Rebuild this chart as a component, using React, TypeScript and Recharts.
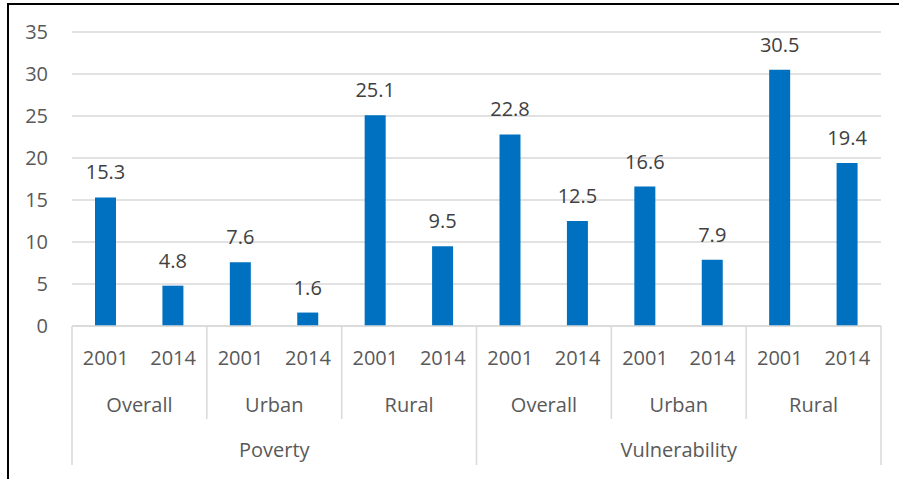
import React from 'react';
import { BarChart, Bar, XAxis, YAxis, CartesianGrid, LabelList } from 'recharts';

const groups = ['Poverty', 'Vulnerability'];
const areas = ['Overall', 'Urban', 'Rural'];
const years = ['2001', '2014'];
const values = [15.3, 4.8, 7.6, 1.6, 25.1, 9.5, 22.8, 12.5, 16.6, 7.9, 30.5, 19.4];
const yTicks = [0, 5, 10, 15, 20, 25, 30, 35];

const data = values.map((v, i) => ({
  year: years[i % 2],
  area: areas[Math.floor(i / 2) % 3],
  group: groups[Math.floor(i / 6)],
  value: v,
}));

const W = 899;
const H = 479;
const MARGIN = { top: 32, right: 18, left: 0, bottom: 0 };
const Y_W = 72;
const X_H = 153;
const BAND = (W - MARGIN.left - MARGIN.right - Y_W) / data.length;
const FONT = '"Open Sans", sans-serif';
const GRID = '#d9d9d9';
const TXT = '#595959';

function CategoryTick(props: any) {
  const { x, y, payload } = props;
  const i = payload.index as number;
  const d = data[i];
  const left = x - BAND / 2;
  const parts: React.ReactNode[] = [];
  if (i % 2 === 0) {
    const full = i % 6 === 0;
    parts.push(
      <line key="sep" x1={left} x2={left} y1={y} y2={y + (full ? 139 : 93)} stroke={GRID} strokeWidth={1.5} />
    );
    parts.push(
      <text key="area" x={x + BAND / 2} y={y + 86} textAnchor="middle" fill={TXT} fontSize={20} fontFamily={FONT}>
        {d.area}
      </text>
    );
  }
  if (i % 6 === 0) {
    parts.push(
      <text key="grp" x={x + BAND * 2.5} y={y + 131} textAnchor="middle" fill={TXT} fontSize={20} fontFamily={FONT}>
        {d.group}
      </text>
    );
  }
  if (i === data.length - 1) {
    const right = x + BAND / 2;
    parts.push(<line key="end" x1={right} x2={right} y1={y} y2={y + 139} stroke={GRID} strokeWidth={1.5} />);
  }
  return (
    <g>
      <text x={x} y={y + 39} textAnchor="middle" fill={TXT} fontSize={20} fontFamily={FONT}>
        {d.year}
      </text>
      {parts}
    </g>
  );
}

export default function App() {
  return (
    <div style={{ position: 'absolute', left: 0, top: 0, width: W, height: H, background: '#fff', overflow: 'hidden' }}>
      <div
        style={{
          position: 'absolute', left: 7, top: 3, width: W, height: H,
          borderTop: '2px solid #000', borderLeft: '2px solid #000',
        }}
      />
      <div style={{ position: 'absolute', left: 0, top: 0 }}>
        <BarChart width={W} height={H} data={data} margin={MARGIN}>
          <CartesianGrid horizontal vertical={false} stroke={GRID} strokeWidth={1.3} />
          <XAxis
            dataKey="year"
            interval={0}
            height={X_H}
            axisLine={{ stroke: GRID, strokeWidth: 1.5 }}
            tickLine={false}
            tickSize={0}
            tickMargin={0}
            tick={<CategoryTick />}
          />
          <YAxis
            domain={[0, 35]}
            ticks={yTicks}
            width={Y_W}
            axisLine={false}
            tickLine={false}
            tickSize={0}
            tickMargin={24}
            tick={{ fontSize: 20, fill: TXT, fontFamily: FONT }}
          />
          <Bar dataKey="value" fill="#0070C0" barSize={21} isAnimationActive={false}>
            <LabelList
              dataKey="value"
              position="top"
              offset={18}
              fill="#404040"
              fontSize={20}
              fontFamily={FONT}
              formatter={(v: any) => Number(v).toFixed(1)}
            />
          </Bar>
        </BarChart>
      </div>
    </div>
  );
}
